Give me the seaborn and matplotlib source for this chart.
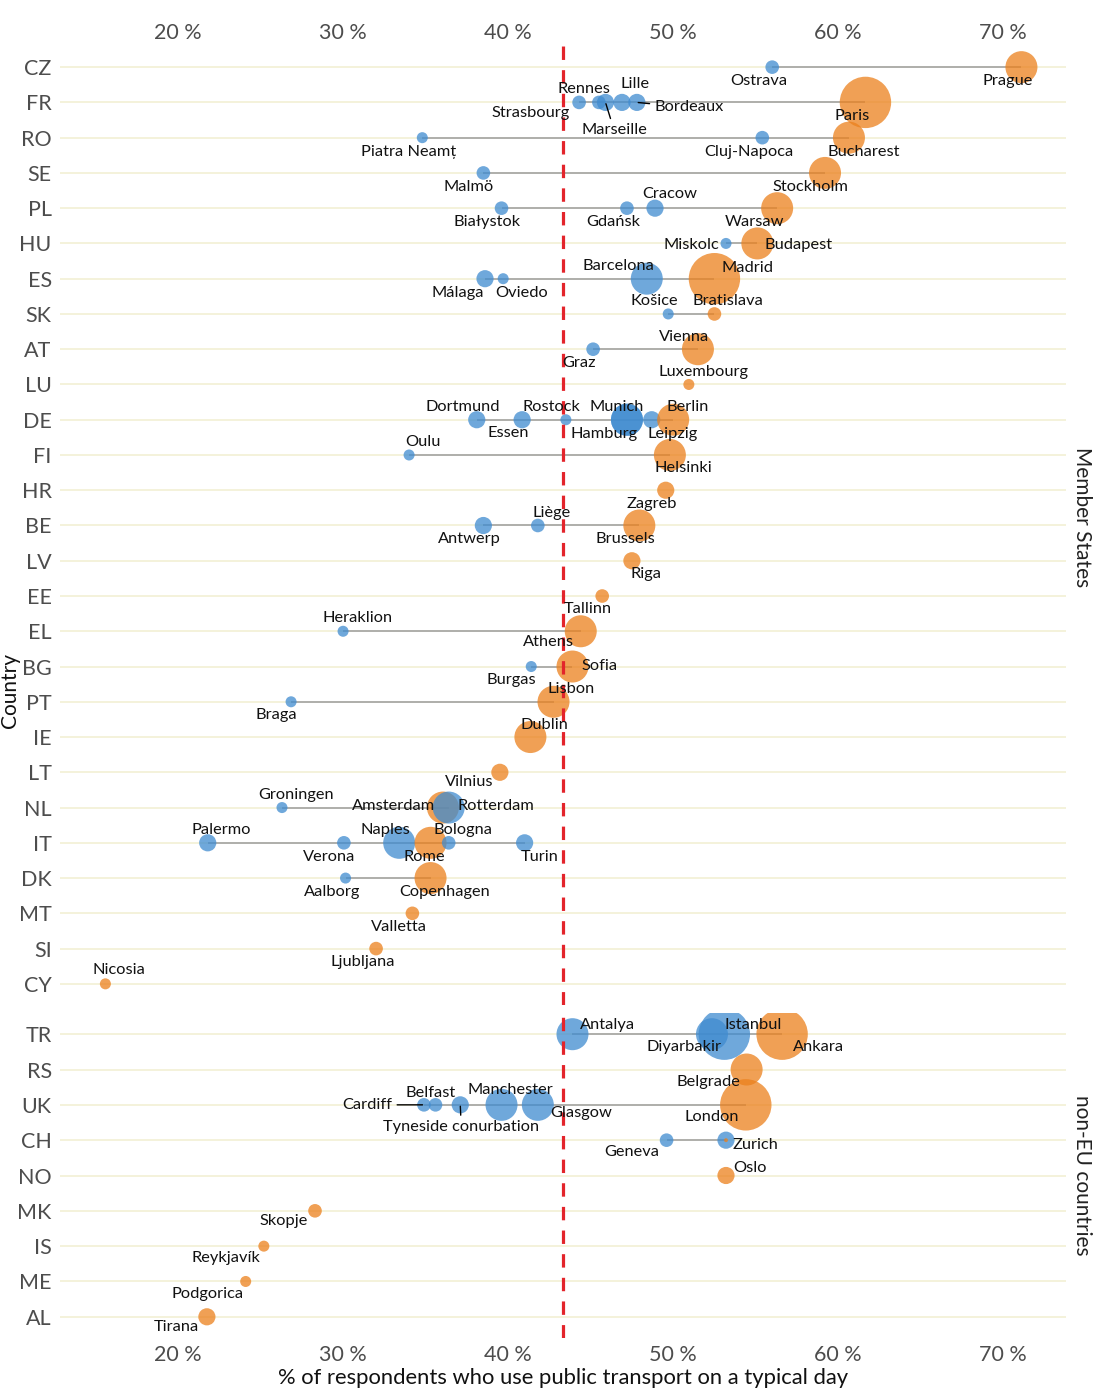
import numpy as np
import pandas as pd
import matplotlib
matplotlib.use("Agg")
import matplotlib.pyplot as plt
import seaborn as sns

# ---------------- data ----------------
countries_eu = ["CZ", "FR", "RO", "SE", "PL", "HU", "ES", "SK", "AT", "LU", "DE", "FI", "HR",
                "BE", "LV", "EE", "EL", "BG", "PT", "IE", "LT", "NL", "IT", "DK", "MT", "SI", "CY"]
countries_non = ["TR", "RS", "UK", "CH", "NO", "MK", "IS", "ME", "AL"]

cities = ["Ostrava", "Prague",
          "Strasbourg", "Rennes", "Marseille", "Lille", "Bordeaux", "Paris",
          "Piatra Neamț", "Cluj-Napoca", "Bucharest",
          "Malmö", "Stockholm",
          "Białystok", "Gdańsk", "Cracow", "Warsaw",
          "Miskolc", "Budapest",
          "Málaga", "Oviedo", "Barcelona", "Madrid",
          "Košice", "Bratislava",
          "Graz", "Vienna",
          "Luxembourg",
          "Dortmund", "Essen", "Rostock", "Hamburg", "Munich", "Leipzig", "Berlin",
          "Oulu", "Helsinki",
          "Zagreb",
          "Antwerp", "Liège", "Brussels",
          "Riga",
          "Tallinn",
          "Heraklion", "Athens",
          "Burgas", "Sofia",
          "Braga", "Lisbon",
          "Dublin",
          "Vilnius",
          "Groningen", "Amsterdam", "Rotterdam",
          "Palermo", "Verona", "Naples", "Rome", "Bologna", "Turin",
          "Aalborg", "Copenhagen",
          "Valletta",
          "Ljubljana",
          "Nicosia",
          "Antalya", "Diyarbakir", "Istanbul", "Ankara",
          "Belgrade",
          "Cardiff", "Belfast", "Tyneside conurbation", "Manchester", "Glasgow", "London",
          "Geneva", "Zurich", "Bern",
          "Oslo",
          "Skopje",
          "Reykjavík",
          "Podgorica",
          "Tirana"]

city_country = ["CZ", "CZ",
                "FR", "FR", "FR", "FR", "FR", "FR",
                "RO", "RO", "RO",
                "SE", "SE",
                "PL", "PL", "PL", "PL",
                "HU", "HU",
                "ES", "ES", "ES", "ES",
                "SK", "SK",
                "AT", "AT",
                "LU",
                "DE", "DE", "DE", "DE", "DE", "DE", "DE",
                "FI", "FI",
                "HR",
                "BE", "BE", "BE",
                "LV",
                "EE",
                "EL", "EL",
                "BG", "BG",
                "PT", "PT",
                "IE",
                "LT",
                "NL", "NL", "NL",
                "IT", "IT", "IT", "IT", "IT", "IT",
                "DK", "DK",
                "MT",
                "SI",
                "CY",
                "TR", "TR", "TR", "TR",
                "RS",
                "UK", "UK", "UK", "UK", "UK", "UK",
                "CH", "CH", "CH",
                "NO",
                "MK",
                "IS",
                "ME",
                "AL"]

share_pct = [56.0, 71.1,
             44.3, 45.5, 45.9, 46.9, 47.8, 61.65,
             34.8, 55.4, 60.65,
             38.5, 59.2,
             39.6, 47.2, 48.9, 56.3,
             53.2, 55.1,
             38.6, 39.7, 48.4, 52.5,
             49.7, 52.5,
             45.15, 51.5,
             50.95,
             38.1, 40.85, 43.5, 47.2, 47.2, 48.7, 50.0,
             34.0, 49.8,
             49.55,
             38.5, 41.8, 47.95,
             47.5,
             45.7,
             30.0, 44.4,
             41.4, 43.9,
             26.85, 42.75,
             41.35,
             39.5,
             26.3, 36.05, 36.4,
             21.8, 30.05, 33.4, 35.3, 36.4, 41.0,
             30.15, 35.3,
             34.2,
             32.0,
             15.6,
             43.9, 52.35, 53.1, 56.6,
             54.45,
             34.9, 35.6, 37.1, 39.6, 41.8, 54.4,
             49.6, 53.2, 53.2,
             53.2,
             28.3,
             25.2,
             24.1,
             21.75]

is_capital = [0, 1,
              0, 0, 0, 0, 0, 1,
              0, 0, 1,
              0, 1,
              0, 0, 0, 1,
              0, 1,
              0, 0, 0, 1,
              0, 1,
              0, 1,
              1,
              0, 0, 0, 0, 0, 0, 1,
              0, 1,
              1,
              0, 0, 1,
              1,
              1,
              0, 1,
              0, 1,
              0, 1,
              1,
              1,
              0, 1, 0,
              0, 0, 0, 1, 0, 0,
              0, 1,
              1,
              1,
              1,
              0, 0, 0, 1,
              1,
              0, 0, 0, 0, 0, 1,
              0, 0, 1,
              1,
              1,
              1,
              1,
              1]

# population class (0 = smallest ... 5 = largest)
pop_class = [2, 4,
             2, 2, 3, 3, 3, 5,
             1, 2, 4,
             2, 4,
             2, 2, 3, 4,
             1, 4,
             3, 1, 4, 5,
             1, 2,
             2, 4,
             1,
             3, 3, 1, 4, 4, 3, 4,
             1, 4,
             3,
             3, 2, 4,
             3,
             2,
             1, 4,
             1, 4,
             1, 4,
             4,
             3,
             1, 4, 4,
             3, 2, 4, 4, 2, 3,
             1, 4,
             2,
             2,
             1,
             4, 4, 5, 5,
             4,
             2, 2, 3, 4, 4, 5,
             2, 3, 0,
             3,
             2,
             1,
             1,
             3]

eu_average = 43.3
x_ticks = [20, 30, 40, 50, 60, 70]
x_ticklabels = ["20 %", "30 %", "40 %", "50 %", "60 %", "70 %"]
panel_names = ["Member States", "non-EU countries"]

# ---------------- label placement (pixel offsets from point, y down) ----------------
label_offsets = {
    "Ostrava": (-13.5, 13.7), "Prague": (-13.7, 13.7),
    "Strasbourg": (-48.6, 10.4), "Rennes": (-14.6, -13), "Marseille": (8.6, 27.7),
    "Lille": (13.3, -18.3), "Bordeaux": (52, 5), "Paris": (-13.7, 13.7),
    "Piatra Neamț": (-14, 14), "Cluj-Napoca": (-13.6, 14.2), "Bucharest": (14.3, 14.2),
    "Malmö": (-15, 14.5), "Stockholm": (-14.5, 13.9),
    "Białystok": (-14, 14), "Gdańsk": (-13.9, 13.6), "Cracow": (14.3, -13.8), "Warsaw": (-22.7, 13.6),
    "Miskolc": (-34.5, 1.6), "Budapest": (41.2, 1.6),
    "Málaga": (-27, 14), "Oviedo": (18, 14), "Barcelona": (-28.3, -12.6), "Madrid": (32.6, -11),
    "Košice": (-14, -12.9), "Bratislava": (13.9, -12.9),
    "Graz": (-14.6, 13.5), "Vienna": (-13.6, -12.5),
    "Luxembourg": (14.4, -12.7),
    "Dortmund": (-13.9, -13), "Essen": (-14.1, 13.6), "Rostock": (-14.6, -13),
    "Hamburg": (-23.1, 14.3), "Munich": (-10.5, -13), "Leipzig": (21.2, 14.3), "Berlin": (14.1, -13),
    "Oulu": (14, -12.7), "Helsinki": (13.6, 12.7),
    "Zagreb": (-14.4, 13.8),
    "Antwerp": (-14.1, 13.8), "Liège": (14, -12.8), "Brussels": (-14.4, 13.5),
    "Riga": (14, 13.5),
    "Tallinn": (-13.9, 13.3),
    "Heraklion": (14.2, -13.6), "Athens": (-32, 11),
    "Burgas": (-20, 13.4), "Sofia": (27, -0.6),
    "Braga": (-14.5, 13.4), "Lisbon": (17.9, -12.6),
    "Dublin": (14.1, -12.1),
    "Vilnius": (-31, 9.3),
    "Groningen": (13.8, -12.7), "Amsterdam": (-49.5, -2), "Rotterdam": (46.8, -2),
    "Palermo": (13.5, -13), "Verona": (-14.3, 14.3), "Naples": (-14.1, -13),
    "Rome": (-5.9, 14.3), "Bologna": (14, -13), "Turin": (15, 14.3),
    "Aalborg": (-13.8, 14.1), "Copenhagen": (14.2, 14.1),
    "Valletta": (-13.6, 13.2),
    "Ljubljana": (-13.6, 13.5),
    "Nicosia": (13.75, -14),
    "Antalya": (35.4, -9), "Diyarbakir": (-28.3, 13.3), "Istanbul": (28.7, -9), "Ankara": (36.7, 12.7),
    "Belgrade": (-37.8, 12.3),
    "Cardiff": (-56.4, 0), "Belfast": (-4.9, -11.5), "Tyneside conurbation": (1, 22),
    "Manchester": (8.4, -14.8), "Glasgow": (43.3, 8), "London": (-34, 11.9),
    "Geneva": (-34.9, 12.2), "Zurich": (30, 5),
    "Oslo": (24, -7.2),
    "Skopje": (-31.8, 10),
    "Reykjavík": (-37.9, 12),
    "Podgorica": (-38.2, 12.4),
    "Tirana": (-30.7, 9.7),
}
leader_lines = {"Marseille", "Bordeaux", "Cardiff", "Tyneside conurbation"}

# ---------------- styling ----------------
sns.set_style("white")
plt.rcParams["font.family"] = ["Lato", "DejaVu Sans"]

BLUE = "#3f8bd0"
ORANGE = "#eb801c"
GRID = "#f3f1d8"
SEG = "#a3a3a3"
TICK_COL = "#4d4d4d"
size_map = {0: 8, 1: 63, 2: 96, 3: 153, 4: 531, 5: 1369}

df = pd.DataFrame({"city": cities, "country": city_country, "pct": share_pct,
                   "capital": is_capital, "pop": pop_class})
df["kind"] = np.where(df["capital"] == 1, "capital", "other")

W, H = 1113, 1400
fig = plt.figure(figsize=(W / 100, H / 100), dpi=100)

left = 60 / W
width = 1006 / W
panels = [
    (countries_eu, (1 - 1005 / H, 959 / H), "top", 0.509),
    (countries_non, (1 - 1338 / H, 325 / H), "bottom", 0.5),
]
xlim = (12.85, 73.8)
px2pt = 0.72

for (clist, (b, h), xpos, sy), pname in zip(panels, panel_names):
    ax = fig.add_axes([left, b, width, h])
    sub = df[df["country"].isin(clist)].copy()
    rowmap = {c: i for i, c in enumerate(clist)}
    sub["row"] = sub["country"].map(rowmap)

    # grid lines
    for i in range(len(clist)):
        ax.axhline(i, color=GRID, lw=1.3, zorder=0)

    # segments (min -> max per country)
    rng = sub.groupby("row")["pct"].agg(["min", "max"]).reset_index()
    rng = rng[rng["max"] > rng["min"]]
    ax.hlines(rng["row"], rng["min"], rng["max"], color=SEG, lw=1.2, zorder=1)

    sns.scatterplot(data=sub, x="pct", y="row", hue="kind",
                    palette={"capital": ORANGE, "other": BLUE},
                    size="pop", sizes=size_map, alpha=0.75, linewidth=0,
                    legend=False, ax=ax, zorder=2)

    ax.axvline(eu_average, color="#e3242b", lw=2.3, ls=(0, (4.2, 3.2)), zorder=3)

    for _, r in sub.iterrows():
        if r["city"] not in label_offsets:
            continue
        dx, dy = label_offsets[r["city"]]
        kw = {}
        if r["city"] in leader_lines:
            kw["arrowprops"] = dict(arrowstyle="-", color="black", lw=1.0,
                                    shrinkA=1, shrinkB=1)
        ax.annotate(r["city"], xy=(r["pct"], r["row"]),
                    xytext=(dx * px2pt, -dy * px2pt), textcoords="offset points",
                    ha="center", va="center", fontsize=11.8, color="#111111",
                    zorder=4, **kw)

    ax.set_xlim(*xlim)
    ax.set_ylim(len(clist) - 1 + 0.6, -0.6)
    ax.set_yticks(range(len(clist)))
    ax.set_yticklabels(clist)
    ax.set_xticks(x_ticks)
    ax.set_xticklabels(x_ticklabels)
    ax.set_xlabel("")
    ax.set_ylabel("")
    ax.tick_params(axis="both", length=0, labelsize=15.5, labelcolor=TICK_COL)
    ax.tick_params(axis="y", pad=6)
    if xpos == "top":
        ax.xaxis.set_ticks_position("top")
        ax.xaxis.set_label_position("top")
        ax.tick_params(axis="x", pad=2)
    else:
        ax.tick_params(axis="x", pad=5)
        ax.set_xlabel("% of respondents who use public transport on a typical day",
                      fontsize=15.8, color="#111111", labelpad=2)
    for s in ax.spines.values():
        s.set_visible(False)
    ax.grid(False)
    ax.text(1.016, sy, pname, transform=ax.transAxes, rotation=270,
            ha="center", va="center", fontsize=15, color="#222222")

fig.text(10 / W, 1 - 690 / H, "Country", rotation=90, ha="center", va="center",
         fontsize=15, color="#111111")

fig.savefig("out.png", dpi=100)
